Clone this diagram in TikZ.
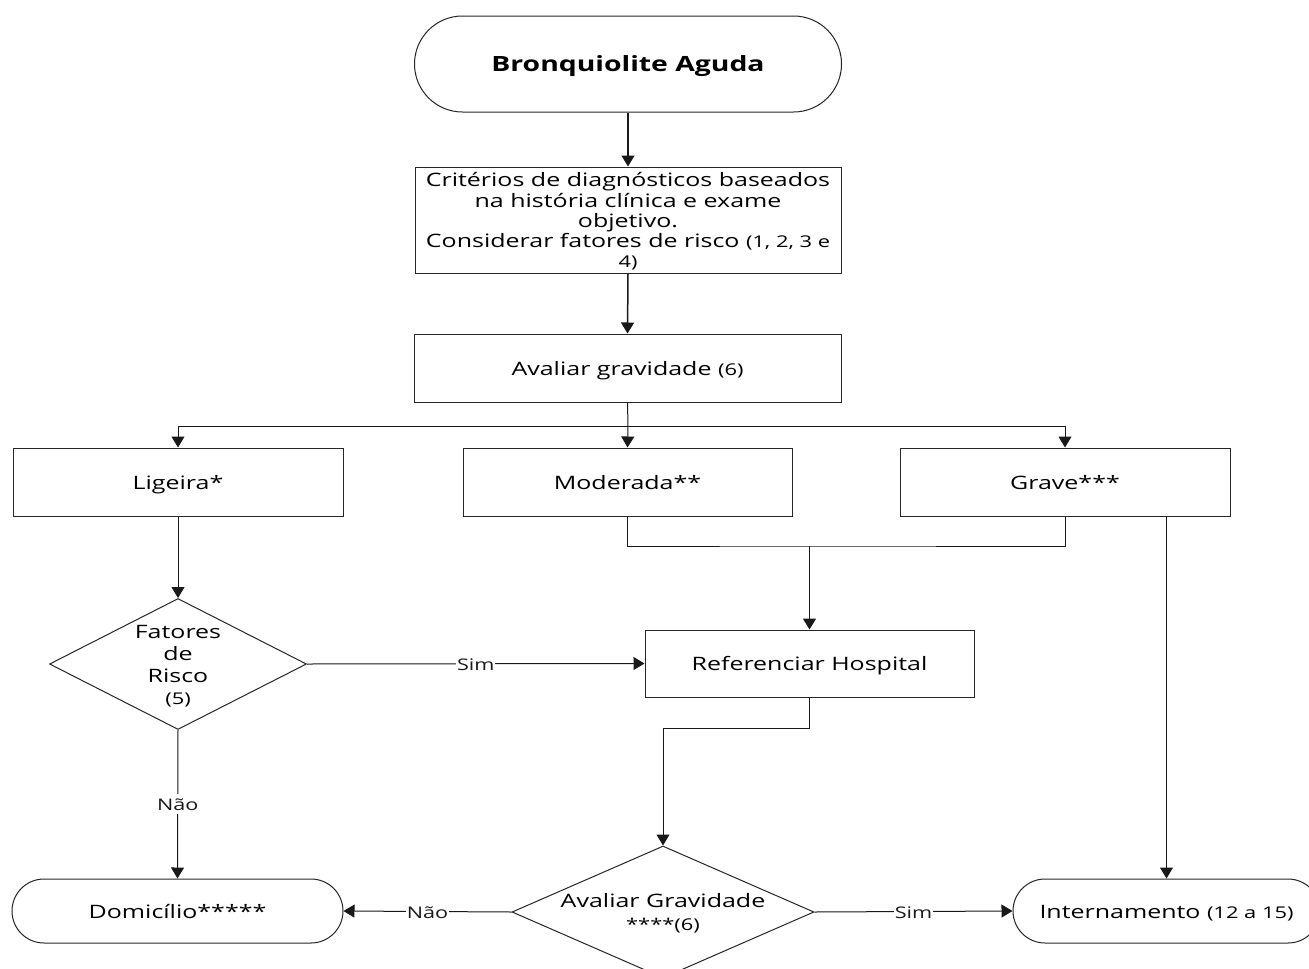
\documentclass[tikz,border=0pt]{standalone}
\usepackage{fontspec}
\usepackage{graphicx}
\setmainfont{Open Sans}
\usetikzlibrary{shapes.geometric,arrows.meta}
\newcommand{\smpar}{\fontsize{16.2}{20}\selectfont}
\newcommand{\sx}[1]{\raisebox{-3pt}[\height][\depth]{\scalebox{1.35}[1]{\begin{tabular}{@{}c@{}}#1\end{tabular}}}}
\begin{document}
\begin{tikzpicture}[x=1pt,y=-1pt,
  box/.style={draw=black!85,line width=1pt,rectangle,inner sep=0pt,align=center,
    font=\fontsize{18.5}{20}\selectfont},
  term/.style={box,rounded corners=#1},
  dia/.style={draw=black!85,line width=1pt,diamond,inner sep=0pt},
  txt/.style={align=center,inner sep=0pt,font=\fontsize{18.5}{22}\selectfont},
  conn/.style={line width=1pt,black!90},
  arr/.style={conn,-{Triangle[width=13pt,length=11pt]}},
  lbl/.style={fill=white,inner sep=1pt,font=\fontsize{16}{18}\selectfont}]
\clip (0,0) rectangle (1309,969);
\fill[white] (0,0) rectangle (1309,969);

% nodes
\node[term=48,minimum width=427pt,minimum height=96pt,font=\bfseries\fontsize{21}{24}\selectfont] (start) at (628,64) {\sx{Bronquiolite Aguda}};
\node[box,minimum width=426pt,minimum height=106pt] (crit) at (628,220)
  {\sx{Critérios de diagnósticos baseados\\na história clínica e exame\\objetivo.\\Considerar fatores de risco {\smpar(1, 2, 3 e}\\{\smpar4)}}};
\node[box,minimum width=427pt,minimum height=68pt] (aval) at (627.5,368) {\sx{Avaliar gravidade {\smpar(6)}}};
\node[box,minimum width=330pt,minimum height=68pt] (lig) at (178,482) {\sx{Ligeira*}};
\node[box,minimum width=329pt,minimum height=68pt] (mod) at (627.5,482) {\sx{Moderada**}};
\node[box,minimum width=330pt,minimum height=68pt] (grave) at (1065,482) {\sx{Grave***}};
\node[dia,minimum width=257pt,minimum height=131pt] (fat) at (178,664) {};
\node[txt] (fatt) at (178,664) {\sx{Fatores\\de\\Risco\\{\smpar(5)}}};
\node[box,minimum width=329pt,minimum height=67pt] (ref) at (809.5,663.5) {\sx{Referenciar Hospital}};
\node[term=32,minimum width=331pt,minimum height=64pt] (dom) at (177.5,911) {\sx{Domicílio*****}};
\node[dia,minimum width=302pt,minimum height=132pt] (ag) at (663,912) {};
\node[txt,font=\fontsize{18.5}{23}\selectfont] (agt) at (663,911) {\sx{Avaliar Gravidade\\{\smpar****(6)}}};
\node[term=32,minimum width=307pt,minimum height=64pt] (int) at (1166.5,911) {\sx{Internamento {\smpar(12 a 15)}}};

% connectors
\draw[arr,line width=1.5pt] (start.south) -- (crit.north);
\draw[arr,line width=1.5pt] (crit.south) -- (aval.north);
\coordinate (split) at (628,426.5);
\draw[conn] (aval.south) -- (split);
\draw[arr] (split) -| (lig.north);
\draw[arr] (split) -| (grave.north);
\draw[arr] (split) -- (mod.north);
\draw[arr] (lig.south) -- (fat.north);
\coordinate (join) at (809.5,546);
\draw[conn] (mod.south) |- (join) -| (grave.south);
\draw[arr,line width=1.5pt] (join) -- (ref.north);
\draw[arr] (fat.east) -- node[lbl]{\sx{Sim}} (ref.west);
\draw[arr] (fat.south) -- node[lbl]{\sx{Não}} (dom.north);
\coordinate (rbend) at (809.5,728);
\draw[arr] (ref.south) -- (rbend) -| (ag.north);
\coordinate (gdrop) at (1166.5,516);
\draw[arr] (gdrop) -- (int.north);
\draw[arr] (ag.west) -- node[lbl]{\sx{Não}} (dom.east);
\draw[arr] (ag.east) -- node[lbl]{\sx{Sim}} (int.west);
\end{tikzpicture}
\end{document}
